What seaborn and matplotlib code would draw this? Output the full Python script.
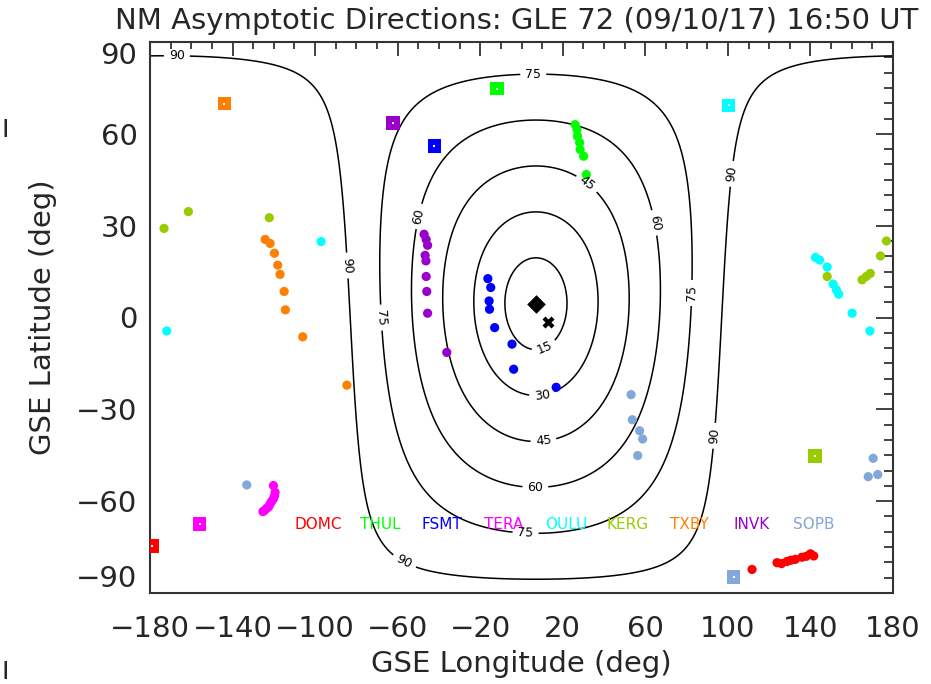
import numpy as np
import pandas as pd
import seaborn as sns
from matplotlib import pyplot as plt

# stations and their colours
stations = ['DOMC', 'THUL', 'FSMT', 'TERA', 'OULU', 'KERG', 'TXBY', 'INVK', 'SOPB']
colors = ['#ff0000', '#00ff00', '#0000ff', '#ff00ff', '#00ffff',
          '#99cc00', '#ff8000', '#9900cc', '#80a8d8']

# station locations (squares)
site_lon = [-179.0, -12.0, -42.2, -156.0, 100.4, 142.1, -144.0, -62.3, 102.8]
site_lat = [-74.6, 74.8, 56.0, -67.4, 69.3, -45.3, 69.9, 63.6, -84.8]

# asymptotic directions
domc_lon = [111.7, 123.8, 126.0, 128.6, 130.5, 132.7, 135.9, 138.0, 140.0, 141.6]
domc_lat = [-82.3, -80.1, -80.4, -79.7, -79.3, -79.0, -78.3, -78.0, -77.2, -77.9]
thul_lon = [26.0, 26.9, 27.1, 28.2, 28.4, 30.1, 31.4]
thul_lat = [63.0, 61.4, 59.2, 57.1, 54.9, 52.7, 46.7]
fsmt_lon = [-16.3, -14.9, -15.7, -15.5, -13.0, -4.6, -3.8, 16.8]
fsmt_lat = [12.7, 9.8, 5.4, 2.7, -3.3, -8.7, -16.9, -22.8]
tera_lon = [-120.2, -119.4, -119.6, -120.2, -121.0, -121.8, -122.5, -123.4, -124.5, -125.3]
tera_lat = [-54.9, -57.1, -58.2, -59.2, -60.0, -60.9, -61.8, -62.3, -63.0, -63.4]
oulu_lon = [-171.9, -97.1, 142.4, 144.4, 148.1, 151.0, 152.6, 153.7, 160.2, 168.8]
oulu_lat = [-4.4, 24.8, 19.6, 18.8, 16.5, 10.9, 9.0, 7.6, 1.4, -4.4]
kerg_lon = [-173.2, -161.4, -122.2, 148.1, 165.0, 167.1, 169.0, 173.9, 176.8]
kerg_lat = [29.1, 34.6, 32.6, 13.4, 12.3, 13.4, 14.4, 20.1, 25.0]
txby_lon = [-124.2, -121.8, -119.7, -118.1, -117.0, -115.0, -114.4, -106.0, -84.6]
txby_lat = [25.5, 24.2, 21.0, 17.1, 14.1, 8.5, 2.5, -6.3, -22.1]
invk_lon = [-47.2, -46.2, -45.5, -46.7, -46.3, -46.2, -45.9, -45.5, -36.2]
invk_lat = [27.2, 25.5, 23.6, 20.3, 18.5, 13.4, 8.5, 1.4, -11.4]
sopb_lon = [-133.1, 53.1, 53.7, 57.2, 58.7, 56.3, 170.4, 168.0, 172.6]
sopb_lat = [-54.7, -25.2, -33.4, -37.0, -39.7, -45.1, -46.0, -52.0, -51.3]

# reference direction (diamond) and the other black mark
ref_lon, ref_lat = 7.0, 4.5
x_lon, x_lat = 12.7, -1.6
levels = [15, 30, 45, 60, 75, 90]

asym = {
    'DOMC': (domc_lon, domc_lat), 'THUL': (thul_lon, thul_lat),
    'FSMT': (fsmt_lon, fsmt_lat), 'TERA': (tera_lon, tera_lat),
    'OULU': (oulu_lon, oulu_lat), 'KERG': (kerg_lon, kerg_lat),
    'TXBY': (txby_lon, txby_lat), 'INVK': (invk_lon, invk_lat),
    'SOPB': (sopb_lon, sopb_lat),
}
df = pd.concat([pd.DataFrame({'station': k, 'lon': v[0], 'lat': v[1]})
                for k, v in asym.items()], ignore_index=True)
sites = pd.DataFrame({'station': stations, 'lon': site_lon, 'lat': site_lat})
pal = dict(zip(stations, colors))

sns.set_style('white')
plt.rcParams['font.family'] = ['DejaVu Sans']

fig = plt.figure(figsize=(9.31, 6.84), dpi=100)
ax = fig.add_axes([150 / 931, 1 - 593 / 684, 743 / 931, 551 / 684])

# angular distance from the reference direction
lon = np.linspace(-180, 180, 721)
lat = np.linspace(-90, 90, 361)
LON, LAT = np.meshgrid(np.radians(lon), np.radians(lat))
l0, p0 = np.radians(ref_lon), np.radians(ref_lat)
cosd = np.sin(LAT) * np.sin(p0) + np.cos(LAT) * np.cos(p0) * np.cos(LON - l0)
dist = np.degrees(np.arccos(np.clip(cosd, -1, 1)))
cs = ax.contour(lon, lat, dist, levels=levels, colors='black', linewidths=1.1)
label_pos = [(-167, 86), (-84, 17), (101, 47), (92.5, -38.6), (-57, -80),
             (5.7, 78.8), (-67, 0), (83, 8), (2, -70),
             (-49.6, 33), (65, 31), (6.7, -55),
             (32, 44), (10.6, -40), (10, -25.6), (11, -9.7)]
ax.clabel(cs, manual=label_pos, inline=True, fontsize=9, fmt='%d')

sns.scatterplot(data=df, x='lon', y='lat', hue='station', palette=pal,
                s=44, linewidth=0, legend=False, ax=ax, zorder=3)
sns.scatterplot(data=sites, x='lon', y='lat', hue='station', palette=pal,
                marker='s', s=95, linewidth=0, legend=False, ax=ax, zorder=3)
ax.scatter(site_lon, site_lat, marker='s', s=4, color='white', linewidth=0, zorder=4)
ax.scatter([ref_lon], [ref_lat], marker='D', s=90, color='black', linewidth=0, zorder=4)
ax.scatter([x_lon], [x_lat], marker='X', s=75, color='black', linewidth=0, zorder=4)

for i, (name, c) in enumerate(zip(stations, colors)):
    ax.text(-98.5 + 30 * i, -67.7, name, color=c, fontsize=11,
            ha='center', va='center')

ax.set_xlim(-180, 180)
ax.set_ylim(-90, 90)
ax.set_xticks(np.arange(-180, 181, 40))
ax.set_xticks(np.arange(-180, 181, 10), minor=True)
ax.set_yticks(np.arange(-90, 91, 30))
ax.set_yticks(np.arange(-90, 91, 5), minor=True)
ax.tick_params(which='both', direction='in', top=True, right=True,
               width=1.3, color='#333333', labelsize=21)
ax.tick_params(axis='x', which='major', length=10, pad=16)
ax.tick_params(axis='x', which='minor', length=5)
ax.tick_params(axis='y', which='major', length=12, pad=9)
ax.tick_params(axis='y', which='minor', length=6.5)
for sp in ax.spines.values():
    sp.set_linewidth(1.5)
    sp.set_color('#333333')

# end labels sit inside the axis range, as in the original
ylabels = ax.get_yticklabels()
ylabels[0].set_va('bottom')
ylabels[-1].set_va('top')

ax.set_xlabel('GSE Longitude (deg)', fontsize=21, labelpad=5)
ax.set_ylabel('GSE Latitude (deg)', fontsize=21, labelpad=14)
fig.text(517 / 931, 1 - 21 / 684, 'NM Asymptotic Directions: GLE 72 (09/10/17) 16:50 UT',
         ha='center', va='center', fontsize=21)
# stray marks at the left edge of the original image
fig.text(2 / 931, 1 - 130 / 684, 'I', fontsize=18, va='center', ha='left')
fig.text(2 / 931, 1 - 672 / 684, 'I', fontsize=18, va='center', ha='left')

fig.savefig('out.png', dpi=100)
